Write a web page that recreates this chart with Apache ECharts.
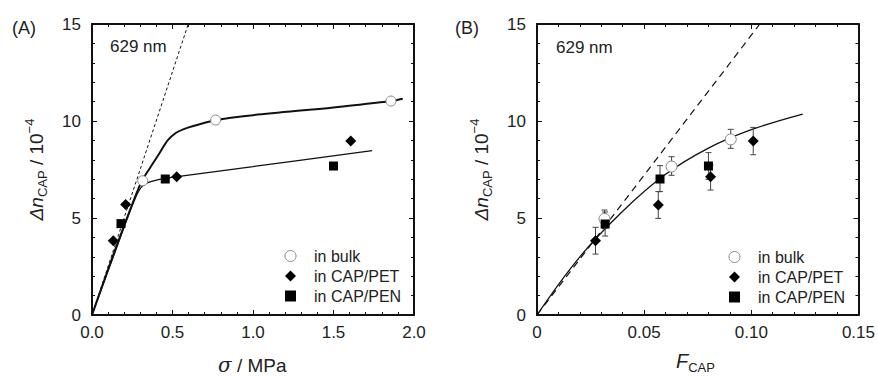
<!DOCTYPE html>
<html><head><meta charset="utf-8">
<script src="https://cdn.jsdelivr.net/npm/echarts@6/dist/echarts.min.js"></script>
<style>html,body{margin:0;padding:0;background:#fff}#c{width:878px;height:377px}</style>
</head><body><div id="c"></div>
<script>
// ---------- Panel A (stress, MPa) ----------
const bulkA_x = [0.315, 0.768, 1.857];
const bulkA_y = [6.92, 10.05, 11.03];
const petA_x = [0.132, 0.209, 0.526, 1.607];
const petA_y = [3.83, 5.69, 7.13, 8.97];
const penA_x = [0.18, 0.455, 1.50];
const penA_y = [4.71, 7.01, 7.68];
const dashA_x = [0, 0.598];
const dashA_y = [0, 15];
const fitBulkA_x = [0, 0.15, 0.3, 0.36, 0.42, 0.47, 0.52, 0.57, 0.629, 0.77, 1.0, 1.5, 1.86, 1.93];
const fitBulkA_y = [0, 3.5, 6.75, 7.58, 8.35, 9.0, 9.38, 9.58, 9.74, 10.05, 10.3, 10.7, 11.03, 11.15];
const fitFilmA_x = [0, 0.15, 0.27, 0.32, 0.4, 0.53, 1.0, 1.74];
const fitFilmA_y = [0, 3.4, 6.05, 6.7, 6.95, 7.13, 7.65, 8.47];
const ticksA_x = [0, 0.5, 1.0, 1.5, 2.0];
const ticksA_y = [0, 5, 10, 15];

// ---------- Panel B (F_CAP) ----------
const bulkB_x = [0.0315, 0.0628, 0.0904];
const bulkB_y = [4.95, 7.65, 9.05];
const bulkB_lo = [4.49, 7.2, 8.59];
const bulkB_hi = [5.41, 8.16, 9.57];
const petB_x = [0.0273, 0.0566, 0.081, 0.1009];
const petB_y = [3.83, 5.67, 7.13, 8.97];
const petB_lo = [3.14, 4.98, 6.44, 8.26];
const petB_hi = [4.52, 6.36, 7.73, 9.67];
const penB_x = [0.0318, 0.0574, 0.080];
const penB_y = [4.69, 7.01, 7.68];
const penB_lo = [4.07, 6.36, 6.99];
const penB_hi = [5.31, 7.7, 8.37];
const dashB_x = [0, 0.104];
const dashB_y = [0, 15];
const fitB_x = [0, 0.02, 0.04, 0.06, 0.08, 0.1, 0.124];
const fitB_y = [0, 3.0, 5.35, 7.25, 8.6, 9.55, 10.36];
const ticksB_x = [0, 0.05, 0.10, 0.15];
const ticksB_y = [0, 5, 10, 15];

const legendNames = ['in bulk', 'in CAP/PET', 'in CAP/PEN'];

const FONT = '"Liberation Sans", Arial, Helvetica, sans-serif';
const TXT = '#222';
const MK = '#000';
const zip = (xs, ys) => xs.map((x, i) => [x, ys[i]]);
const zip3 = (xs, lo, hi) => xs.map((x, i) => [x, lo[i], hi[i]]);

function axisCommon(extra) {
  return Object.assign({
    axisLine: { show: true, onZero: false, lineStyle: { color: '#111', width: 2 } },
    axisTick: { show: true, inside: true, length: 5, lineStyle: { color: '#111', width: 1 } },
    minorTick: { show: true, splitNumber: 5, length: 3, lineStyle: { color: '#111', width: 1 } },
    splitLine: { show: false },
    minorSplitLine: { show: false }
  }, extra);
}

const yRich = {
  m: { fontSize: 19, fontFamily: FONT, color: TXT, lineHeight: 26, verticalAlign: 'middle' },
  i: { fontSize: 19, fontFamily: FONT, fontStyle: 'italic', color: TXT, lineHeight: 26, verticalAlign: 'middle' },
  s: { fontSize: 13, fontFamily: FONT, color: TXT, lineHeight: 12, verticalAlign: 'bottom' },
  p: { fontSize: 13, fontFamily: FONT, color: TXT, lineHeight: 12, verticalAlign: 'top' }
};
const yName = '{i|Δn}{s|CAP}{m| / 10}{p|−4}';

function xAxes(gi, min, max, interval, fmt) {
  return [
    axisCommon({ type: 'value', gridIndex: gi, min, max, interval, position: 'bottom',
      axisLabel: { show: true, margin: 9, fontSize: 17, color: TXT, fontFamily: FONT, formatter: fmt } }),
    axisCommon({ type: 'value', gridIndex: gi, min, max, interval, position: 'top',
      axisLabel: { show: false } })
  ];
}
function yAxes(gi, name, gap) {
  return [
    axisCommon({ type: 'value', gridIndex: gi, min: 0, max: 15, interval: 5, position: 'left',
      axisLabel: { show: true, margin: 11, fontSize: 17, color: TXT, fontFamily: FONT },
      name: name, nameLocation: 'middle', nameGap: gap, nameRotate: 90,
      nameTextStyle: { fontFamily: FONT, color: TXT, rich: yRich } }),
    axisCommon({ type: 'value', gridIndex: gi, min: 0, max: 15, interval: 5, position: 'right',
      axisLabel: { show: false } })
  ];
}

const fmtA = v => ticksA_x.includes(+v.toFixed(2)) ? v.toFixed(1) : '';
const fmtB = v => { const r = +v.toFixed(3); if (!ticksB_x.includes(r)) return ''; return r === 0 ? '0' : r.toFixed(2); };

const symBulk = { symbol: 'circle', symbolSize: 10, itemStyle: { color: '#fff', borderColor: '#888', borderWidth: 1, opacity: 1 } };
const symPet = { symbol: 'diamond', symbolSize: 11, itemStyle: { color: MK, opacity: 1 } };
const symPen = { symbol: 'rect', symbolSize: 9, itemStyle: { color: MK, opacity: 1 } };

function scatter(name, xi, yi, data, sym) {
  return Object.assign({ type: 'scatter', name, xAxisIndex: xi, yAxisIndex: yi, data, z: 5 }, sym);
}
function line(xi, yi, data, width, dash, z, smooth) {
  return { type: 'line', xAxisIndex: xi, yAxisIndex: yi, data, showSymbol: false, symbol: 'none',
    smooth: smooth || false, silent: true, z: z || 3,
    lineStyle: { color: '#111', width, type: dash || 'solid' } };
}
function errBars(xi, yi, data) {
  return { type: 'custom', xAxisIndex: xi, yAxisIndex: yi, data, z: 4, silent: true,
    renderItem: function (params, api) {
      const x = api.value(0), lo = api.value(1), hi = api.value(2);
      const a = api.coord([x, lo]), b = api.coord([x, hi]);
      const st = { stroke: '#444', lineWidth: 1 };
      return { type: 'group', children: [
        { type: 'line', shape: { x1: a[0], y1: a[1], x2: b[0], y2: b[1] }, style: st },
        { type: 'line', shape: { x1: a[0] - 3, y1: a[1], x2: a[0] + 3, y2: a[1] }, style: st },
        { type: 'line', shape: { x1: b[0] - 3, y1: b[1], x2: b[0] + 3, y2: b[1] }, style: st }
      ] };
    } };
}

const legendCommon = {
  orient: 'vertical', itemWidth: 11, itemHeight: 11, itemGap: 4, padding: 0,
  selectedMode: false,
  data: [
    { name: legendNames[0], icon: 'circle', itemStyle: { color: '#fff', borderColor: '#888', borderWidth: 1, opacity: 1 } },
    { name: legendNames[1], icon: 'diamond', itemStyle: { color: MK, opacity: 1 } },
    { name: legendNames[2], icon: 'rect', itemStyle: { color: MK, opacity: 1 } }
  ],
  textStyle: { fontSize: 16, fontFamily: FONT, color: TXT, padding: [0, 0, 0, 13] }
};

const option = {
  animation: false,
  backgroundColor: '#fff',
  grid: [
    { left: 92, right: 464, top: 24, bottom: 62, containLabel: false },
    { left: 537, right: 17, top: 24, bottom: 62, containLabel: false }
  ],
  xAxis: [
    ...xAxes(0, 0, 2, 0.5, fmtA),
    ...xAxes(1, 0, 0.15, 0.05, fmtB)
  ],
  yAxis: [
    ...yAxes(0, yName, 43),
    ...yAxes(1, yName, 43)
  ],
  legend: [
    Object.assign({ left: 284.5, top: 248 }, legendCommon),
    Object.assign({ left: 728.5, top: 249 }, legendCommon)
  ],
  graphic: [
    { type: 'text', left: 12, top: 19, style: { text: '(A)', fontSize: 18, fontFamily: FONT, fill: TXT } },
    { type: 'text', left: 455, top: 19, style: { text: '(B)', fontSize: 18, fontFamily: FONT, fill: TXT } },
    { type: 'text', left: 110, top: 38, style: { text: '629 nm', fontSize: 17, fontFamily: FONT, fill: TXT } },
    { type: 'text', left: 556, top: 39, style: { text: '629 nm', fontSize: 17, fontFamily: FONT, fill: TXT } },
    { type: 'text', left: 218, top: 355, style: {
        text: '{i|σ}{m| / MPa}',
        rich: {
          i: { fontSize: 20, fontFamily: 'DejaVu Serif, serif', fontStyle: 'italic', fill: TXT },
          m: { fontSize: 19, fontFamily: FONT, fill: TXT }
        } } },
    { type: 'text', left: 676, top: 351, style: {
        text: '{i|F}{s|CAP}',
        rich: {
          i: { fontSize: 20, fontFamily: FONT, fontStyle: 'italic', fill: TXT, lineHeight: 26, verticalAlign: 'middle' },
          s: { fontSize: 13, fontFamily: FONT, fill: TXT, lineHeight: 12, verticalAlign: 'bottom' }
        } } }
  ],
  series: [
    // Panel A
    line(0, 0, zip(dashA_x, dashA_y), 1, [3, 2.5], 2),
    line(0, 0, zip(fitBulkA_x, fitBulkA_y), 2, 'solid', 3, 0.3),
    line(0, 0, zip(fitFilmA_x, fitFilmA_y), 1.3, 'solid', 3, 0.35),
    scatter(legendNames[0], 0, 0, zip(bulkA_x, bulkA_y), symBulk),
    scatter(legendNames[1], 0, 0, zip(petA_x, petA_y), symPet),
    scatter(legendNames[2], 0, 0, zip(penA_x, penA_y), symPen),
    // Panel B
    line(2, 2, zip(dashB_x, dashB_y), 1.2, [7, 5], 2),
    line(2, 2, zip(fitB_x, fitB_y), 1.3, 'solid', 3, 0.4),
    errBars(2, 2, zip3(bulkB_x, bulkB_lo, bulkB_hi)),
    errBars(2, 2, zip3(petB_x, petB_lo, petB_hi)),
    errBars(2, 2, zip3(penB_x, penB_lo, penB_hi)),
    scatter(legendNames[0], 2, 2, zip(bulkB_x, bulkB_y), Object.assign({}, symBulk, { symbolSize: 11 })),
    scatter(legendNames[1], 2, 2, zip(petB_x, petB_y), symPet),
    scatter(legendNames[2], 2, 2, zip(penB_x, penB_y), symPen)
  ]
};

const chart = echarts.init(document.getElementById('c'), null, { renderer: 'svg' });
chart.setOption(option);
</script>
</body></html>
